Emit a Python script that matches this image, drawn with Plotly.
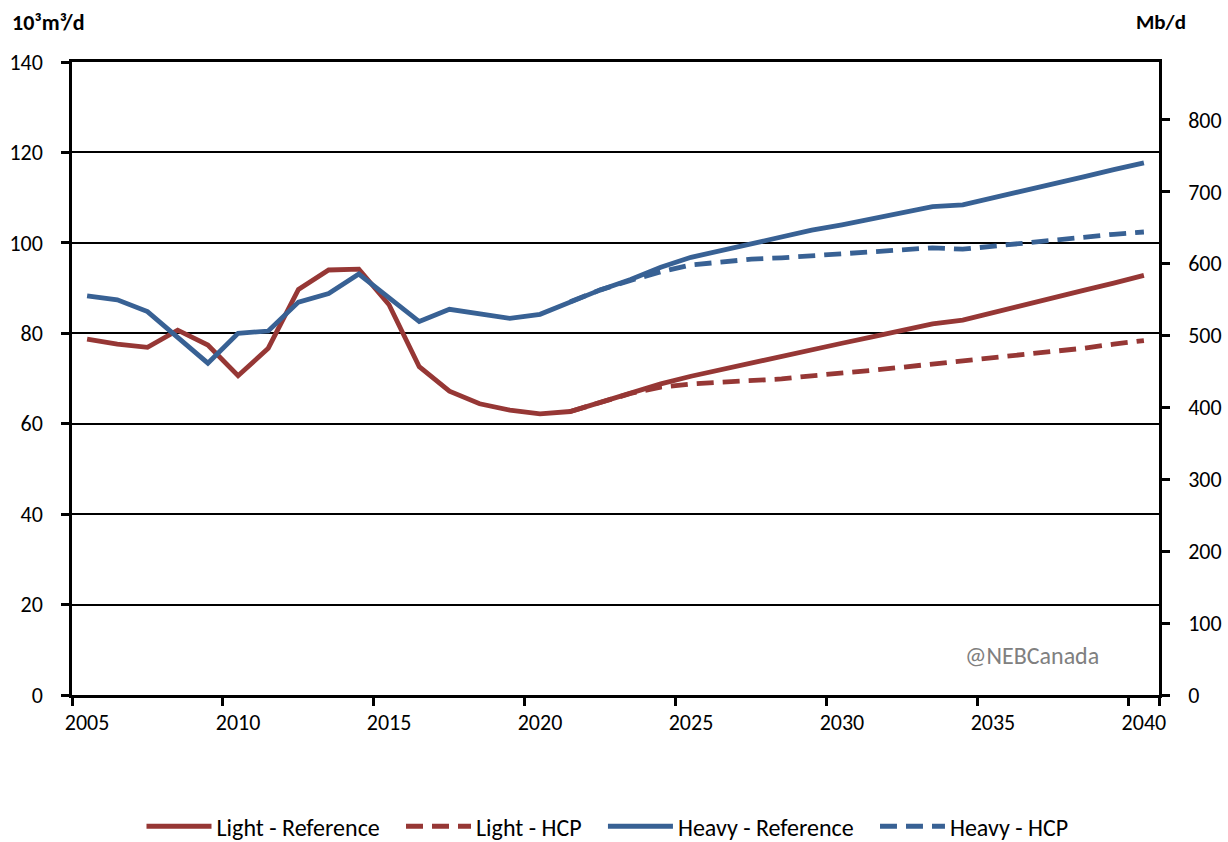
import plotly.graph_objects as go

years = [str(y) for y in range(2005, 2041)]

light_ref = [78.7, 77.6, 76.9, 80.7, 77.4, 70.6, 76.7, 89.7, 94.0, 94.2,
             86.3, 72.6, 67.2, 64.4, 63.0, 62.2, 62.7, 64.7, 66.7, 68.8,
             70.5, 72.0, 73.5, 75.0, 76.4, 77.8, 79.2, 80.7, 82.1, 82.9,
             84.6, 86.2, 87.9, 89.5, 91.1, 92.8]

light_hcp = [None] * 16 + [62.7, 64.7, 66.7, 68.1,
             68.8, 69.2, 69.5, 69.9, 70.6, 71.1, 71.8, 72.5, 73.2, 73.7,
             74.5, 75.2, 75.9, 76.7, 77.6, 78.4]

heavy_ref = [88.3, 87.4, 84.8, 79.0, 73.4, 80.0, 80.5, 86.9, 88.8, 93.1,
             87.7, 82.6, 85.3, 84.4, 83.3, 84.2, 87.0, 89.6, 91.9, 94.6,
             96.8, 98.3, 99.9, 101.4, 102.8, 104.0, 105.3, 106.6, 108.0, 108.4,
             109.9, 111.5, 113.1, 114.6, 116.2, 117.7]

heavy_hcp = [None] * 16 + [87.0, 89.6, 91.7, 93.6,
             95.1, 95.8, 96.4, 96.7, 97.1, 97.6, 98.1, 98.5, 98.9, 98.6,
             99.3, 100.0, 100.7, 101.4, 101.9, 102.4]

x_ticks = ['2005', '2010', '2015', '2020', '2025', '2030', '2035', '2040']

M3_TO_BBL = 6.2898  # 10^3 m3/d -> Mb/d

RED = 'rgb(150, 55, 53)'
BLUE = 'rgb(56, 97, 148)'
FONT = 'Carlito, Calibri, Lato, sans-serif'
DASH = '17px,9px'
PAD = '\u00a0' * 3  # a little more room between legend entries

fig = go.Figure()

series = [
    ('Light - Reference', light_ref, RED, 'solid'),
    ('Light - HCP', light_hcp, RED, DASH),
    ('Heavy - Reference', heavy_ref, BLUE, 'solid'),
    ('Heavy - HCP', heavy_hcp, BLUE, DASH),
]

for name, vals, color, dash in series:
    fig.add_trace(go.Scatter(
        x = years,
        y = vals,
        name = name + PAD,
        mode = 'lines',
        line = dict(color = color, width = 4.8, dash = dash),
        connectgaps = False,
        hovertemplate = '<b>' + name + '</b>: %{y}<br>%{x}<extra></extra>'
    ))

# secondary axis in Mb/d, driven by the same data
fig.add_trace(go.Scatter(
    x = years,
    y = [v * M3_TO_BBL for v in heavy_ref],
    yaxis = 'y2',
    mode = 'lines',
    line = dict(color = 'rgba(0,0,0,0)', width = 0),
    showlegend = False,
    hoverinfo = 'skip'
))

axis_common = dict(
    ticks = 'outside',
    ticklen = 8,
    tickwidth = 2.5,
    tickcolor = 'black',
    showline = True,
    linecolor = 'black',
    linewidth = 2.5,
    automargin = False,
    tickfont = dict(family = FONT, size = 22, color = 'black'),
)

fig.update_layout(
    width = 1228,
    height = 842,
    margin = dict(l = 72, r = 69, t = 62, b = 147, autoexpand = False),
    plot_bgcolor = 'white',
    paper_bgcolor = 'white',
    font = dict(family = FONT, size = 22, color = 'black'),
    xaxis = dict(
        axis_common,
        type = 'category',
        tickmode = 'array',
        tickvals = x_ticks,
        ticktext = x_ticks,
        tickson = 'boundaries',
        tickangle = 0,
        mirror = True,
        showgrid = False,
        range = [-0.5, 35.5],
        ticklabelstandoff = 6,
    ),
    yaxis = dict(
        axis_common,
        range = [0, 140],
        tickvals = [0, 20, 40, 60, 80, 100, 120, 140],
        showgrid = True,
        gridcolor = 'black',
        gridwidth = 1.5,
        zeroline = False,
        ticklabelstandoff = 14,
    ),
    yaxis2 = dict(
        axis_common,
        overlaying = 'y',
        side = 'right',
        range = [0, 140 * M3_TO_BBL],
        tickvals = [0, 100, 200, 300, 400, 500, 600, 700, 800],
        showgrid = False,
        zeroline = False,
        ticklabelstandoff = 14,
    ),
    legend = dict(
        orientation = 'h',
        xanchor = 'center',
        yanchor = 'middle',
        x = 0.5,
        y = -0.208,
        font = dict(family = FONT, size = 24),
        itemwidth = 65,
        tracegroupgap = 0,
        bgcolor = 'rgba(0,0,0,0)',
    ),
    showlegend = True,
)

fig.add_annotation(
    text = '<b>10³m³/d</b>', xref = 'paper', yref = 'paper',
    x = -0.057, y = 1.063, xanchor = 'left', yanchor = 'middle',
    showarrow = False, font = dict(family = FONT, size = 22)
)
fig.add_annotation(
    text = '<b>Mb/d</b>', xref = 'paper', yref = 'paper',
    x = 1.002, y = 1.063, xanchor = 'center', yanchor = 'middle',
    showarrow = False, font = dict(family = FONT, size = 21)
)
fig.add_annotation(
    text = '@NEBCanada', xref = 'paper', yref = 'paper',
    x = 0.883, y = 0.063, xanchor = 'center', yanchor = 'middle',
    showarrow = False, font = dict(family = FONT, size = 24, color = 'rgb(128,128,128)')
)

# drop the browser's default 8px body margin so the figure fills the window
fig.write_html('out.html', config = {'displayModeBar': False},
               post_script = "document.body.style.margin = '0';")
